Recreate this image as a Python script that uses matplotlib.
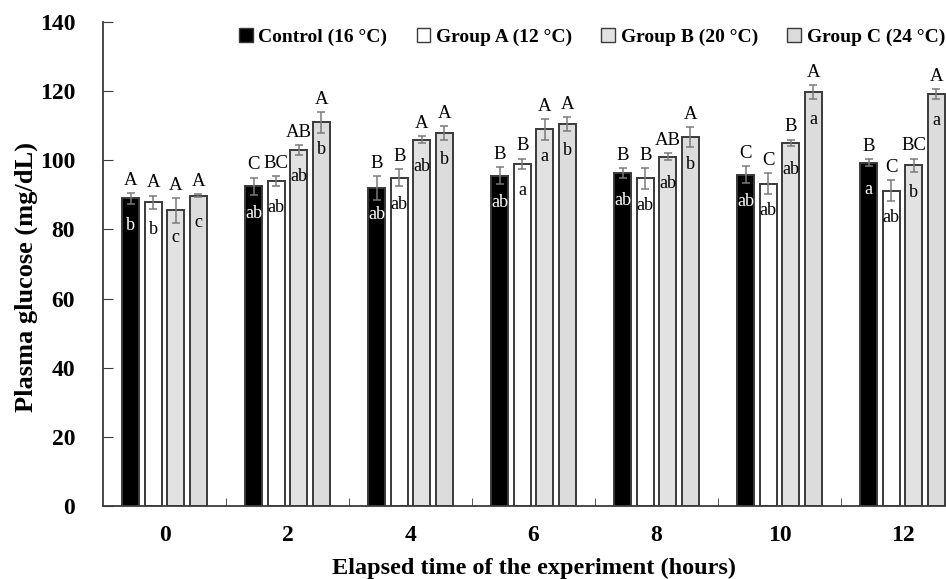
import matplotlib
matplotlib.use("Agg")
import matplotlib.pyplot as plt
from matplotlib.patches import Patch
import numpy as np

plt.rcParams['font.family'] = ['Liberation Serif', 'DejaVu Serif']

hours = ["0", "2", "4", "6", "8", "10", "12"]
series = ["Control (16 °C)", "Group A (12 °C)", "Group B (20 °C)", "Group C (24 °C)"]

control = [89.0, 92.5, 92.0, 95.5, 96.3, 95.8, 99.3]
group_a = [87.8, 94.0, 95.0, 99.0, 94.8, 93.2, 91.2]
group_b = [85.5, 103.0, 106.0, 109.0, 101.0, 105.0, 98.5]
group_c = [89.8, 111.0, 108.0, 110.5, 106.7, 119.7, 119.2]

control_err = [1.5, 2.5, 3.5, 2.5, 1.5, 2.5, 1.0]
group_a_err = [2.0, 1.5, 2.5, 1.5, 3.0, 3.0, 3.0]
group_b_err = [3.5, 1.5, 1.0, 3.0, 1.0, 1.0, 2.0]
group_c_err = [0.5, 3.0, 2.0, 2.0, 3.0, 2.0, 1.5]

# letters above bars (between groups at same time)
upper = [
    ["A", "C", "B", "B", "B", "C", "B"],
    ["A", "BC", "B", "B", "B", "C", "C"],
    ["A", "AB", "A", "A", "AB", "B", "BC"],
    ["A", "A", "A", "A", "A", "A", "A"],
]
# letters inside bars (within group over time)
inner = [
    ["b", "ab", "ab", "ab", "ab", "ab", "a"],
    ["b", "ab", "ab", "a", "ab", "ab", "ab"],
    ["c", "ab", "ab", "a", "ab", "ab", "b"],
    ["c", "b", "b", "b", "b", "a", "a"],
]

values = [control, group_a, group_b, group_c]
errors = [control_err, group_a_err, group_b_err, group_c_err]
faces = ["black", "white", "#e2e2e2", "#dcdcdc"]
inner_colors = ["white", "black", "black", "black"]

fig = plt.figure(figsize=(9.46, 5.79), dpi=100)
ax = fig.add_axes([103 / 946, 73 / 579, 861 / 946, 484 / 579])

x = np.arange(len(hours))
width = 0.138
pitch = 0.183
offsets = (np.arange(4) - 1.5) * pitch

for i in range(4):
    ax.bar(x + offsets[i], values[i], width, color=faces[i], edgecolor="#3a3a3a",
           linewidth=1.4, zorder=2)
    ax.errorbar(x + offsets[i], values[i], yerr=errors[i], fmt="none",
                ecolor="#7a7a7a", elinewidth=1.1, capsize=3, capthick=1.1, zorder=3)
    for j in range(len(hours)):
        top = values[i][j] + errors[i][j]
        ax.text(x[j] + offsets[i], top + 1.2, upper[i][j], ha="center", va="bottom",
                fontsize=13.5, color="black")
        ax.text(x[j] + offsets[i], values[i][j] - 7.8, inner[i][j], ha="center",
                va="center", fontsize=13, color=inner_colors[i])

ax.set_xlim(-0.5, 6.5)
ax.set_ylim(0, 140)
ax.set_yticks(np.arange(0, 141, 20))
ax.set_xticks(x)
ax.set_xticklabels(hours)
ax.set_xticks(x[:-1] + 0.5, minor=True)
ax.tick_params(axis="x", which="major", length=0, pad=14)
ax.tick_params(axis="x", which="minor", direction="in", length=6, color="#3a3a3a")
ax.tick_params(axis="y", direction="in", length=7, color="#3a3a3a", pad=20)
for lab in ax.get_xticklabels() + ax.get_yticklabels():
    lab.set_fontweight("bold")
    lab.set_fontsize(17)

for side in ["top", "right"]:
    ax.spines[side].set_visible(False)
for side in ["left", "bottom"]:
    ax.spines[side].set_color("#3a3a3a")
    ax.spines[side].set_linewidth(1.3)

fig.text(26 / 946, 1 - 277 / 579, "Plasma glucose (mg/dL)", rotation=90,
         ha="center", va="center", fontsize=19, fontweight="bold")
ax.set_xlabel("Elapsed time of the experiment (hours)", fontsize=17.5, fontweight="bold",
              labelpad=8)

handles = [Patch(facecolor=faces[i], edgecolor="#3a3a3a", linewidth=1.0) for i in range(4)]
fig.legend(handles, series, loc="center right", bbox_to_anchor=(0.999, 1 - 37 / 579),
           ncol=4, frameon=False, handlelength=0.7, handleheight=0.7,
           handletextpad=0.3, columnspacing=1.5, borderaxespad=0, borderpad=0,
           prop={"weight": "bold", "size": 14})

fig.savefig("out.png", dpi=100)
